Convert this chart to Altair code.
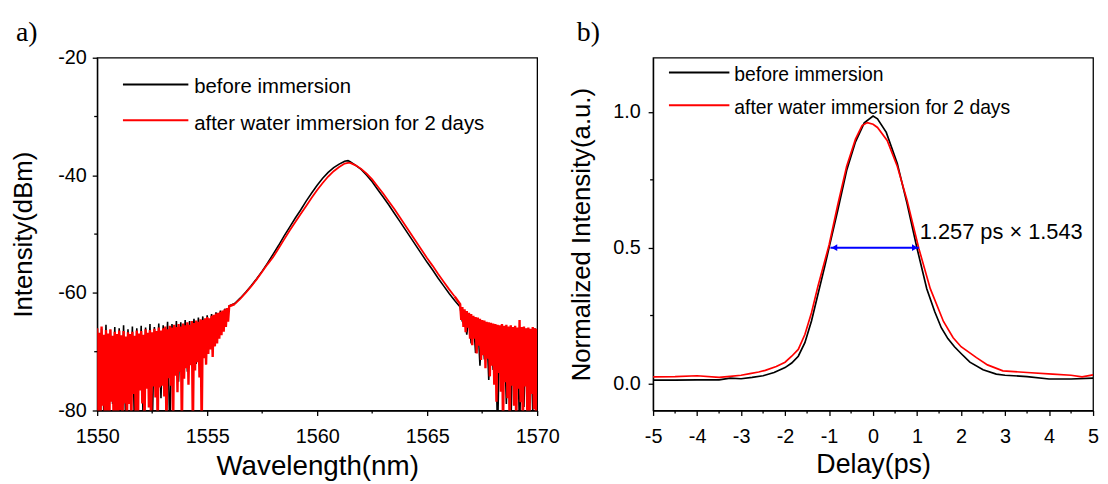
import numpy as np
import pandas as pd
import altair as alt

SANS = "Liberation Sans"
SERIF = "Liberation Serif"

# ---------------- panel a) optical spectrum (dBm) ----------------
# noise floor on the short-wavelength side (red: 0.05 nm sampling, black: 0.1 nm)
red_left = [
    -66.0, -80.5, -66.8, -84.0, -65.7, -79.2, -67.1, -84.0, -66.3, -80.8,
    -66.9, -84.0, -66.2, -78.5, -67.3, -84.0, -66.6, -81.8, -67.0, -84.0,
    -66.4, -79.9, -67.2, -84.0, -66.5, -78.8, -67.4, -84.0, -66.7, -78.9,
    -67.0, -84.0, -66.6, -77.2, -67.3, -80.6, -66.4, -84.0, -66.9, -76.6,
    -66.5, -78.8, -67.1, -84.0, -66.2, -76.3, -66.8, -79.5, -66.3, -84.0,
    -66.7, -75.9, -66.1, -77.8, -66.5, -84.0, -65.9, -76.1, -66.4, -75.8,
    -66.0, -77.6, -65.7, -84.0, -66.2, -74.5, -65.6, -75.8, -65.9, -84.0,
    -65.4, -74.1, -65.8, -76.9, -65.3, -73.4, -65.7, -84.0, -65.2, -74.6,
    -65.5, -72.8, -65.0, -75.6, -65.4, -72.3, -64.8, -84.0, -65.1, -73.2,
    -64.7, -71.8, -64.9, -74.4, -64.5, -84.0, -64.6, -71.1, -64.3, -72.2,
    -64.1, -70.4, -64.3, -69.6, -63.9, -70.9, -63.7, -69.1, -63.5, -68.6,
    -63.4, -67.8, -63.2, -67.2, -63.0, -66.6, -62.8, -65.8, -62.6, -64.9,
    -62.3,
]
black_left = [
    -65.6, -84.0, -66.1, -80.5, -65.4, -84.0, -66.3, -78.9, -65.8, -84.0,
    -66.0, -81.2, -65.5, -84.0, -66.2, -77.6, -65.7, -84.0, -66.0, -76.3,
    -65.6, -84.0, -65.9, -75.4, -65.3, -84.0, -65.8, -74.7, -65.2, -77.9,
    -65.5, -73.2, -64.9, -84.0, -65.3, -72.8, -64.8, -75.1, -65.0, -71.9,
    -64.6, -73.4, -64.8, -70.6, -64.4, -72.1, -64.2, -69.8, -64.0, -70.9,
    -63.8, -68.7, -63.6, -67.4, -63.3, -66.5, -63.0, -65.3, -62.7, -64.2,
    -62.2,
]
# central part of the spectrum
core_wl = [1556.25, 1556.5, 1556.75, 1557.0, 1557.25, 1557.5, 1557.75, 1558.0,
           1558.25, 1558.5, 1558.75, 1559.0, 1559.25, 1559.5, 1559.75, 1560.0,
           1560.25, 1560.5, 1560.75, 1561.0, 1561.25, 1561.4, 1561.5, 1561.75,
           1562.0, 1562.25, 1562.5, 1562.75, 1563.0, 1563.25, 1563.5, 1563.75,
           1564.0, 1564.25, 1564.5, 1564.75, 1565.0, 1565.25, 1565.5, 1565.75,
           1566.0, 1566.25]
black_core = [-61.8, -60.9, -59.9, -58.8, -57.6, -56.3, -54.9, -53.4, -51.9, -50.3,
              -48.8, -47.3, -45.9, -44.4, -43.0, -41.7, -40.5, -39.5, -38.7, -38.1,
              -37.6, -37.5, -37.7, -38.3, -39.0, -40.0, -41.1, -42.4, -43.7, -45.0,
              -46.4, -47.8, -49.2, -50.6, -52.0, -53.4, -54.8, -56.1, -57.5, -58.8,
              -60.1, -61.3]
red_core = [-61.9, -61.0, -60.0, -58.9, -57.7, -56.4, -55.1, -53.9, -52.4, -50.9,
            -49.4, -48.0, -46.6, -45.2, -43.8, -42.5, -41.3, -40.2, -39.3, -38.6,
            -38.0, -37.9, -37.9, -38.3, -38.9, -39.7, -40.7, -41.9, -43.1, -44.4,
            -45.7, -47.1, -48.5, -49.9, -51.3, -52.7, -54.1, -55.4, -56.8, -58.1,
            -59.4, -60.6]
# noise floor on the long-wavelength side (from 1566.5 nm)
red_right = [
    -61.9, -64.6, -62.4, -65.8, -62.8, -66.7, -63.1, -65.9, -63.4, -67.8,
    -63.6, -68.9, -63.9, -67.8, -64.1, -70.3, -64.2, -69.0, -64.4, -71.4,
    -64.6, -70.6, -64.7, -72.8, -64.9, -71.2, -65.0, -74.2, -65.1, -72.4,
    -65.2, -75.6, -65.3, -78.5, -65.4, -73.6, -65.5, -76.8, -65.3, -84.0,
    -65.6, -75.2, -65.4, -77.9, -65.7, -84.0, -65.5, -75.8, -65.8, -79.2,
    -65.6, -84.0, -65.9, -76.3, -64.6, -78.6, -65.8, -84.0, -65.7, -75.9,
    -66.0, -80.1, -65.9, -84.0, -66.1, -77.2, -65.8, -79.8, -66.0, -84.0,
    -66.1,
]
black_right = [
    -62.4, -64.9, -63.3, -67.1, -64.0, -68.6, -64.5, -70.2, -64.9, -72.4,
    -65.2, -71.3, -65.5, -74.8, -65.6, -73.1, -65.8, -84.0, -66.0, -75.6,
    -66.1, -78.9, -65.9, -84.0, -66.2, -77.3, -66.0, -84.0, -66.3, -79.4,
    -66.1, -84.0, -66.4, -80.2, -66.0, -84.0,
]

# ---------------- panel b) autocorrelation trace ----------------
black_delay = [-5.0, -4.5, -4.0, -3.5, -3.25, -3.0, -2.75, -2.5, -2.25, -2.0, -1.85,
               -1.7, -1.55, -1.4, -1.25, -1.1, -1.0, -0.8, -0.6, -0.4, -0.2, 0.0,
               0.1, 0.3, 0.55, 0.77, 1.0, 1.22, 1.4, 1.55, 1.7, 1.85, 2.0, 2.2,
               2.5, 2.8, 3.0, 3.5, 4.0, 4.5, 5.0]
black_int = [0.012, 0.012, 0.013, 0.013, 0.019, 0.017, 0.022, 0.028, 0.040, 0.058,
             0.075, 0.100, 0.150, 0.230, 0.330, 0.430, 0.500, 0.640, 0.785, 0.890,
             0.960, 0.985, 0.975, 0.925, 0.810, 0.664, 0.497, 0.349, 0.265, 0.205,
             0.165, 0.135, 0.110, 0.078, 0.050, 0.034, 0.030, 0.025, 0.016, 0.016,
             0.019]
red_delay = [-5.0, -4.5, -4.0, -3.5, -3.25, -3.0, -2.8, -2.6, -2.45, -2.2, -2.0,
             -1.85, -1.7, -1.55, -1.4, -1.25, -1.1, -1.0, -0.8, -0.6, -0.4, -0.25,
             -0.13, 0.0, 0.1, 0.32, 0.55, 0.77, 1.04, 1.3, 1.6, 1.82, 2.0, 2.35,
             2.6, 2.95, 3.5, 4.08, 4.5, 4.75, 5.0]
red_int = [0.024, 0.025, 0.028, 0.022, 0.026, 0.030, 0.036, 0.042, 0.048, 0.062,
           0.078, 0.100, 0.125, 0.180, 0.260, 0.360, 0.450, 0.510, 0.660, 0.800,
           0.900, 0.950, 0.961, 0.955, 0.943, 0.895, 0.800, 0.676, 0.497, 0.349,
           0.228, 0.168, 0.135, 0.095, 0.068, 0.046, 0.040, 0.034, 0.030, 0.024,
           0.031]
fwhm_from, fwhm_to, fwhm_level = -0.97, 1.04, 0.5
fwhm_label = "1.257 ps \u00d7 1.543"
fwhm_label_pos = (1.06, 0.556)

legend_labels = ["before immersion", "after water immersion for 2 days"]
colors = ["#000000", "#ff0000"]

W, H = 444, 356


def sampled(start, step, vals):
    return pd.DataFrame({"wl": np.round(start + step * np.arange(len(vals)), 3), "p": vals})


core_black_df = pd.DataFrame({"wl": core_wl, "p": black_core})
core_red_df = pd.DataFrame({"wl": core_wl, "p": red_core})
black_a = pd.concat([sampled(1550.0, 0.1, black_left), core_black_df,
                     sampled(1566.5, 0.1, black_right)], ignore_index=True)
# red: noisy wings drawn with a heavier pen (joined to the core at its ends)
red_noise_l = pd.concat([sampled(1550.0, 0.05, red_left), core_red_df.iloc[:1]], ignore_index=True)
red_noise_r = pd.concat([core_red_df.iloc[-1:], sampled(1566.5, 0.05, red_right)], ignore_index=True)
black_b = pd.DataFrame({"d": black_delay, "n": black_int})
red_b = pd.DataFrame({"d": red_delay, "n": red_int})


def legend_layers(x0, x1, xt, ys, yts, size):
    layers = []
    for lab, col, y, yt in zip(legend_labels, colors, ys, yts):
        one = pd.DataFrame({"label": [lab]})
        layers.append(alt.Chart(one).mark_rule(color=col, strokeWidth=2).encode(
            x=alt.value(x0), x2=alt.value(x1), y=alt.value(y)))
        layers.append(alt.Chart(one).mark_text(align="left", baseline="middle", font=SANS,
                                               fontSize=size, color="black").encode(
            x=alt.value(xt), y=alt.value(yt), text="label:N"))
    return layers


def panel_label(txt, x, y):
    return alt.Chart(pd.DataFrame({"t": [txt]})).mark_text(
        align="left", baseline="alphabetic", font=SERIF, fontSize=28, color="black"
    ).encode(x=alt.value(x), y=alt.value(y), text="t:N")


# ---------------- panel a ----------------
xa_scale = alt.Scale(domain=[1550, 1570], nice=False, zero=False)
ya_scale = alt.Scale(domain=[-80, -20], nice=False, zero=False)
xa = alt.X("wl:Q", scale=xa_scale,
           axis=alt.Axis(values=[1550, 1555, 1560, 1565, 1570], labelExpr="toString(datum.value)",
                         title="Wavelength(nm)", titleFontSize=28, titlePadding=7,
                         labelPadding=11))
ya = alt.Y("p:Q", scale=ya_scale,
           axis=alt.Axis(values=[-80, -60, -40, -20], labelExpr="toString(datum.value)",
                         title="Intensity(dBm)", titleFontSize=26, titlePadding=21,
                         labelPadding=6))

line_a_black = alt.Chart(black_a).mark_line(color=colors[0], strokeWidth=1.6, clip=True).encode(
    x=xa, y=ya)
line_a_red_core = alt.Chart(core_red_df).mark_line(color=colors[1], strokeWidth=1.8, clip=True).encode(
    x=xa, y=ya)
line_a_red_l = alt.Chart(red_noise_l).mark_line(color=colors[1], strokeWidth=2.4, clip=True).encode(
    x=xa, y=ya)
line_a_red_r = alt.Chart(red_noise_r).mark_line(color=colors[1], strokeWidth=2.4, clip=True).encode(
    x=xa, y=ya)
minor_xa = alt.Chart(pd.DataFrame({"wl": [1552.5, 1557.5, 1562.5, 1567.5]})).mark_rule(
    color="black", strokeWidth=1.3).encode(x=xa, y=alt.value(H), y2=alt.value(H + 3))
minor_ya = alt.Chart(pd.DataFrame({"p": [-30, -50, -70]})).mark_rule(
    color="black", strokeWidth=1.3).encode(y=ya, x=alt.value(0), x2=alt.value(-3))

panel_a = alt.layer(
    line_a_black, line_a_red_core, line_a_red_l, line_a_red_r, minor_xa, minor_ya,
    *legend_layers(26, 92, 98, [27, 63], [30, 67], 20.5),
    panel_label("a)", -82, -17),
).properties(width=W, height=H)

# ---------------- panel b ----------------
xb_scale = alt.Scale(domain=[-5, 5], nice=False, zero=False)
yb_scale = alt.Scale(domain=[-0.1, 1.2], nice=False, zero=False)
xb = alt.X("d:Q", scale=xb_scale,
           axis=alt.Axis(values=list(range(-5, 6)), labelExpr="toString(datum.value)",
                         title="Delay(ps)", titleFontSize=27, titlePadding=6,
                         labelPadding=11))
yb = alt.Y("n:Q", scale=yb_scale,
           axis=alt.Axis(values=[0.0, 0.5, 1.0], format=".1f",
                         title="Normalized Intensity(a.u.)", titleFontSize=26,
                         titlePadding=18, labelPadding=8))

line_b_black = alt.Chart(black_b).mark_line(color=colors[0], strokeWidth=1.7, clip=True).encode(
    x=xb, y=yb)
line_b_red = alt.Chart(red_b).mark_line(color=colors[1], strokeWidth=1.7, clip=True).encode(
    x=xb, y=yb)
minor_xb = alt.Chart(pd.DataFrame({"d": [-4.5, -3.5, -2.5, -1.5, -0.5, 0.5, 1.5, 2.5, 3.5, 4.5]})).mark_rule(
    color="black", strokeWidth=1.3).encode(x=xb, y=alt.value(H), y2=alt.value(H + 3))
minor_yb = alt.Chart(pd.DataFrame({"n": [0.25, 0.75]})).mark_rule(
    color="black", strokeWidth=1.3).encode(y=yb, x=alt.value(0), x2=alt.value(-3))

fwhm_df = pd.DataFrame({"d": [fwhm_from], "d2": [fwhm_to], "n": [fwhm_level]})
fwhm_rule = alt.Chart(fwhm_df).mark_rule(color="#0000ff", strokeWidth=2).encode(
    x=xb, x2="d2:Q", y=yb)
arrow_l = alt.Chart(pd.DataFrame({"d": [fwhm_from], "n": [fwhm_level]})).mark_point(
    shape="triangle-left", filled=True, color="#0000ff", size=45, opacity=1, xOffset=4).encode(x=xb, y=yb)
arrow_r = alt.Chart(pd.DataFrame({"d": [fwhm_to], "n": [fwhm_level]})).mark_point(
    shape="triangle-right", filled=True, color="#0000ff", size=45, opacity=1, xOffset=-4).encode(x=xb, y=yb)
fwhm_text = alt.Chart(pd.DataFrame({"d": [fwhm_label_pos[0]], "n": [fwhm_label_pos[1]],
                                    "t": [fwhm_label]})).mark_text(
    align="left", baseline="middle", font=SANS, fontSize=22, color="black").encode(
    x=xb, y=yb, text="t:N")

panel_b = alt.layer(
    line_b_black, line_b_red, minor_xb, minor_yb, fwhm_rule, arrow_l, arrow_r, fwhm_text,
    *legend_layers(16, 77, 82, [15, 48], [17, 51], 19.5),
    panel_label("b)", -77, -17),
).properties(width=W, height=H)

chart = alt.hconcat(panel_a, panel_b, spacing=117, bounds="flush").configure_view(
    stroke="black", strokeWidth=1.3
).configure_axis(
    domainColor="black", domainWidth=1.3, tickColor="black", tickWidth=1.3, tickSize=5,
    labelFont=SANS, labelFontSize=20, labelColor="black", titleFont=SANS,
    titleFontWeight="normal", titleColor="black", grid=False, labelFlush=False,
    labelOverlap=False
).properties(padding={"left": 2, "top": 8, "right": 0, "bottom": 0}, background="white")

chart.save("out.html", embed_options={"renderer": "svg", "actions": False})
